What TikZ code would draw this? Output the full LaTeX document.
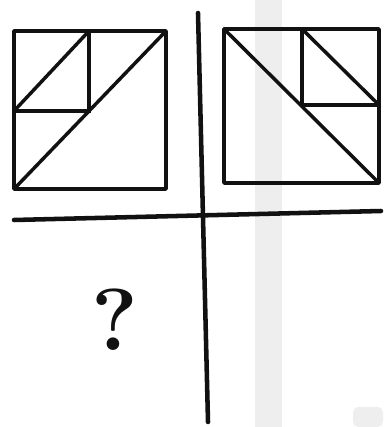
\documentclass[tikz,border=0pt]{standalone}
\usetikzlibrary{positioning,calc}
\definecolor{ink}{HTML}{111111}
\definecolor{scangray}{HTML}{EEEEEE}
\tikzset{
  frame/.style={draw=ink,line width=2.8pt,line join=round},
  cut/.style={draw=ink,line width=2.6pt,line cap=round},
  axis/.style={draw=ink,line width=3.4pt,line cap=round},
  band/.style={fill=scangray,draw=none},
  qmark/.style={font=\fontsize{66}{68}\selectfont\bfseries,text=ink,inner sep=0pt}
}
\begin{document}
\begin{tikzpicture}[x=0.75pt,y=-0.75pt]
\path[use as bounding box,fill=white] (0,0) rectangle (385,427);
% scan shading
\fill[band] (255,0) rectangle (282,427);
\fill[band,rounded corners=4pt] (353,407) rectangle (383,427);

% left panel
\coordinate (lsw) at (14,189); \coordinate (lne) at (166,31);
\coordinate (lmid) at (89,111);
\draw[frame] (lsw) rectangle (lne);
\draw[cut] (lsw |- lmid) -- (lmid) -- (lmid |- lne);
\draw[cut] (lsw) -- (lne);
\draw[cut] (lsw |- lmid) -- (lmid |- lne);

% right panel
\coordinate (rnw) at (224,29); \coordinate (rse) at (379,183);
\coordinate (rmid) at (302,105);
\draw[frame] (rnw) rectangle (rse);
\draw[cut] (rmid |- rnw) -- (rmid) -- (rse |- rmid);
\draw[cut] (rnw) -- (rse);
\draw[cut] (rmid |- rnw) -- (rse |- rmid);

% cross
\coordinate (vtop) at (198,13); \coordinate (vbot) at (208,422);
\coordinate (hleft) at (14,220); \coordinate (hright) at (381,211);
\draw[axis] (vtop) -- (vbot);
\draw[axis] (hleft) -- (hright);

\node[qmark] (ask) at (115,320) {?};
\end{tikzpicture}
\end{document}
